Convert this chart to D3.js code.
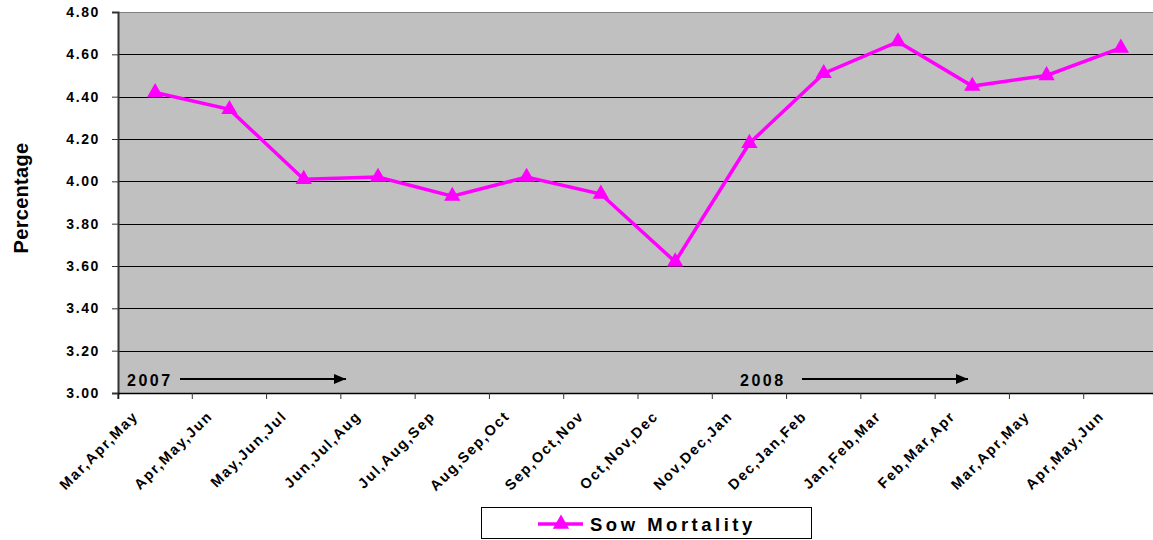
<!DOCTYPE html>
<html><head><meta charset="utf-8">
<script src="https://cdn.jsdelivr.net/npm/d3@7"></script>
<style>
html,body{margin:0;padding:0;background:#fff;}
svg{display:block;font-family:"Liberation Sans",Arial,sans-serif;font-weight:bold;}
</style></head>
<body><svg id="chart" width="1153" height="540"></svg>
<script>
const categories = ["Mar,Apr,May","Apr,May,Jun","May,Jun,Jul","Jun,Jul,Aug","Jul,Aug,Sep","Aug,Sep,Oct","Sep,Oct,Nov","Oct,Nov,Dec","Nov,Dec,Jan","Dec,Jan,Feb","Jan,Feb,Mar","Feb,Mar,Apr","Mar,Apr,May ","Apr,May,Jun "];
const sowMortality = [4.42,4.34,4.01,4.02,3.93,4.02,3.94,3.62,4.18,4.51,4.66,4.45,4.50,4.63];
const yTicks = [3.00,3.20,3.40,3.60,3.80,4.00,4.20,4.40,4.60,4.80];
const seriesName = "Sow Mortality";
const yearLabels = ["2007","2008"];

const svg = d3.select("#chart");
const L = 118, T = 12, B = 393, R = 1158;
const x = d3.scaleBand().domain(categories.map((c,i)=>i)).range([L,R]).padding(0);
const y = d3.scaleLinear().domain([3.0,4.8]).range([B,T]);
const magenta = "#FF00FF";

svg.append("defs").append("marker").attr("id","arr").attr("viewBox","0 0 12 10")
  .attr("refX",12).attr("refY",5).attr("markerWidth",12).attr("markerHeight",10)
  .attr("markerUnits","userSpaceOnUse").attr("orient","auto")
  .append("path").attr("d","M0,0 L12,5 L0,10 Z").attr("fill","#000");

svg.append("rect").attr("x",L).attr("y",T).attr("width",R-L).attr("height",B-T).attr("fill","#C0C0C0");
svg.append("line").attr("x1",L).attr("x2",R).attr("y1",T+0.5).attr("y2",T+0.5).attr("stroke","#808080").attr("stroke-width",1);

// gridlines
svg.append("g").selectAll("line").data(yTicks.slice(1,-1)).join("line")
  .attr("x1",L).attr("x2",R).attr("y1",d=>Math.round(y(d))+0.5).attr("y2",d=>Math.round(y(d))+0.5)
  .attr("stroke","#000").attr("stroke-width",1);

// y axis
const yAxis = d3.axisLeft(y).tickValues(yTicks).tickFormat(d3.format(".2f")).tickSize(6).tickPadding(12);
const gy = svg.append("g").attr("transform",`translate(${L},0)`).call(yAxis);
gy.select(".domain").attr("stroke","#333").attr("stroke-width",2);
gy.selectAll(".tick line").attr("stroke","#333");
gy.selectAll(".tick text").attr("font-size",14).attr("font-weight","bold").attr("fill","#000")
  .attr("font-family","Liberation Sans, Arial, sans-serif").style("letter-spacing","1.6px");

// x axis
const xAxis = d3.axisBottom(x).tickSize(6).tickFormat("");
const gx = svg.append("g").attr("transform",`translate(0,${B})`).call(xAxis);
gx.select(".domain").attr("stroke","#000").attr("stroke-width",1.5);
gx.selectAll(".tick").attr("transform",(d)=>`translate(${x(d)},0)`);
gx.selectAll(".tick line").attr("stroke","#333");
gx.append("line").attr("x1",R).attr("x2",R).attr("y1",0).attr("y2",6).attr("stroke","#333");

// x labels
svg.append("g").selectAll("text").data(categories).join("text")
  .attr("transform",(d,i)=>`translate(${x(i)+x.bandwidth()/2-16},${B+24}) rotate(-45)`)
  .attr("text-anchor","end").attr("font-size",14.5).attr("fill","#000")
  .style("letter-spacing","1.7px")
  .text(d=>d.trim());

// y title
svg.append("text").attr("transform","translate(28,198) rotate(-90)").attr("text-anchor","middle")
  .attr("font-size",20).attr("fill","#000").style("letter-spacing","0.3px").text("Percentage");

// year annotations
const yearX = [127, 740];
const arrowStart = [180, 802];
yearLabels.forEach((t,k)=>{
  svg.append("text").attr("x",yearX[k]).attr("y",386).attr("font-size",16).attr("fill","#000")
    .style("letter-spacing","2.5px").text(t);
  svg.append("line").attr("x1",arrowStart[k]).attr("x2",arrowStart[k]+166).attr("y1",379).attr("y2",379)
    .attr("stroke","#000").attr("stroke-width",2).attr("marker-end","url(#arr)");
});

// series line
const line = d3.line().x((d,i)=>x(i)+x.bandwidth()/2).y(d=>y(d));
svg.append("path").datum(sowMortality).attr("d",line).attr("fill","none")
  .attr("stroke",magenta).attr("stroke-width",3.5).attr("stroke-linejoin","miter");

const tri = d3.symbol().type(d3.symbolTriangle).size(115);
svg.append("g").selectAll("path").data(sowMortality).join("path")
  .attr("transform",(d,i)=>`translate(${x(i)+x.bandwidth()/2},${y(d)})`)
  .attr("d",tri).attr("fill",magenta);

// legend
const lg = svg.append("g");
lg.append("rect").attr("x",481.5).attr("y",507.5).attr("width",330).attr("height",31)
  .attr("fill","#fff").attr("stroke","#000").attr("stroke-width",1);
lg.append("line").attr("x1",538).attr("x2",583).attr("y1",524).attr("y2",524).attr("stroke",magenta).attr("stroke-width",3.5);
lg.append("path").attr("transform","translate(561,524)").attr("d",tri).attr("fill",magenta);
lg.append("text").attr("x",590).attr("y",531).attr("font-size",18.5).attr("fill","#000")
  .style("letter-spacing","3.5px").text(seriesName);
</script></body></html>
